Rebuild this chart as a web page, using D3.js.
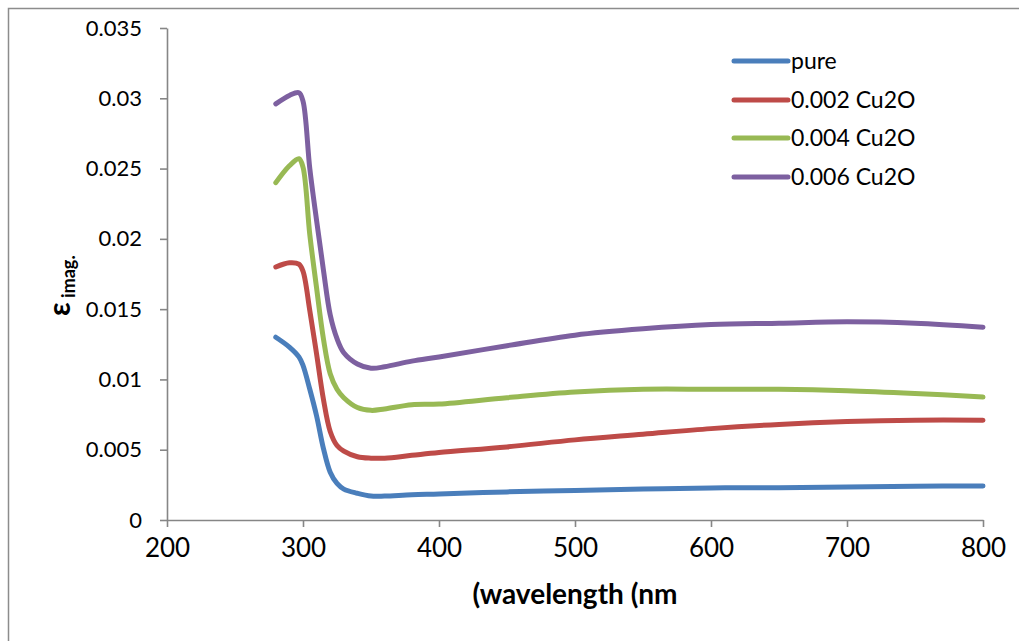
<!DOCTYPE html>
<html>
<head>
<meta charset="utf-8">
<script src="https://cdn.jsdelivr.net/npm/d3@7"></script>
<style>
  body { margin: 0; background: #fff; }
  svg { display: block; font-family: Lato, "Open Sans", sans-serif; }
</style>
</head>
<body>
<div id="chart"></div>
<script>
// wavelength (nm)
var wavelengths = [280, 290, 297, 300, 305, 310, 315, 320, 325, 330, 340, 350, 360, 380, 400, 450, 500, 550, 600, 650, 700, 750, 800];

var seriesNames = ["pure", "0.002 Cu2O", "0.004 Cu2O", "0.006 Cu2O"];
var seriesColors = ["#4a7ebb", "#be4b48", "#98b954", "#7d60a0"];

var pure  = [0.0130, 0.0123, 0.0116, 0.0110, 0.0093, 0.0074, 0.0051, 0.0034, 0.0026, 0.0022, 0.0019, 0.0017, 0.0017, 0.0018, 0.00185, 0.0020, 0.0021, 0.0022, 0.00228, 0.0023, 0.00235, 0.0024, 0.00242];
var cu002 = [0.0180, 0.0183, 0.0182, 0.0177, 0.0149, 0.0118, 0.0086, 0.0063, 0.0053, 0.0049, 0.0045, 0.0044, 0.0044, 0.0046, 0.0048, 0.0052, 0.0057, 0.0061, 0.0065, 0.0068, 0.0070, 0.0071, 0.0071];
var cu004 = [0.0240, 0.0252, 0.0257, 0.0251, 0.0203, 0.0165, 0.0129, 0.0104, 0.0093, 0.0087, 0.0080, 0.0078, 0.0079, 0.0082, 0.00825, 0.0087, 0.0091, 0.0093, 0.0093, 0.0093, 0.0092, 0.0090, 0.00875];
var cu006 = [0.0296, 0.0302, 0.0304, 0.0298, 0.0250, 0.0213, 0.0178, 0.0146, 0.0129, 0.0119, 0.0111, 0.0108, 0.0109, 0.0113, 0.0116, 0.0124, 0.01315, 0.0136, 0.0139, 0.0140, 0.0141, 0.0140, 0.01372];

var xTicks = [200, 300, 400, 500, 600, 700, 800];
var yTicks = [0, 0.005, 0.01, 0.015, 0.02, 0.025, 0.03, 0.035];
var yTickLabels = ["0", "0.005", "0.01", "0.015", "0.02", "0.025", "0.03", "0.035"];

var allSeries = [pure, cu002, cu004, cu006];

var width = 1019, height = 641;
var plot = {left: 167, right: 983, top: 28, bottom: 520};

var svg = d3.select('#chart').append('svg')
    .attr('width', width)
    .attr('height', height);

svg.append('rect').attr('width', width).attr('height', height).attr('fill', '#fff');

// outer chart frame
svg.append('rect')
    .attr('x', 8.5).attr('y', 8.5)
    .attr('width', width + 20).attr('height', height + 20)
    .attr('fill', 'none')
    .attr('stroke', '#8c8c8c')
    .attr('stroke-width', 1.5);

var xScale = d3.scaleLinear().domain([200, 800]).range([plot.left, plot.right]);
var yScale = d3.scaleLinear().domain([0, 0.035]).range([plot.bottom, plot.top]);

var xAxis = svg.append('g')
    .attr('transform', 'translate(0,' + plot.bottom + ')')
    .call(d3.axisBottom(xScale).tickValues(xTicks).tickSize(7).tickSizeOuter(0).tickPadding(12));

var yAxis = svg.append('g')
    .attr('transform', 'translate(' + plot.left + ',0)')
    .call(d3.axisLeft(yScale).tickValues(yTicks).tickSize(7).tickSizeOuter(0).tickPadding(18)
        .tickFormat(function(d, i) { return yTickLabels[i]; }));

[xAxis, yAxis].forEach(function(ax) {
    ax.select('.domain').attr('stroke', '#868686').attr('stroke-width', 1.6);
    ax.selectAll('.tick line').attr('stroke', '#868686').attr('stroke-width', 1.6);
    ax.selectAll('.tick text').attr('fill', '#000').style('font-family', 'Lato, sans-serif');
});
xAxis.selectAll('.tick text').style('font-size', '26px');
yAxis.selectAll('.tick text').style('font-size', '22px');

var line = d3.line()
    .x(function(d, i) { return xScale(wavelengths[i]); })
    .y(function(d) { return yScale(d); })
    .curve(d3.curveCatmullRom.alpha(0.5));

allSeries.forEach(function(s, i) {
    svg.append('path')
        .attr('fill', 'none')
        .attr('stroke', seriesColors[i])
        .attr('stroke-width', 5)
        .attr('stroke-linecap', 'round')
        .attr('stroke-linejoin', 'round')
        .attr('d', line(s));
});

// legend
var legendY = [61, 100, 138, 177];
seriesNames.forEach(function(name, i) {
    svg.append('line')
        .attr('x1', 734).attr('x2', 788)
        .attr('y1', legendY[i]).attr('y2', legendY[i])
        .attr('stroke', seriesColors[i])
        .attr('stroke-width', 5)
        .attr('stroke-linecap', 'round');
    svg.append('text')
        .attr('x', 791).attr('y', legendY[i])
        .attr('dy', '0.36em')
        .style('font-size', '23px')
        .text(name);
});

// axis titles
svg.append('text')
    .attr('x', 575).attr('y', 604)
    .attr('text-anchor', 'middle')
    .style('font-size', '28px')
    .style('font-weight', 'bold')
    .text('(wavelength (nm');

var yTitle = svg.append('text')
    .attr('transform', 'translate(70,316) rotate(-90)')
    .style('font-weight', 'bold');
yTitle.append('tspan').style('font-size', '30px').text('ε');
yTitle.append('tspan').attr('dy', 5).style('font-size', '18px').text(' imag.');
</script>
</body>
</html>
